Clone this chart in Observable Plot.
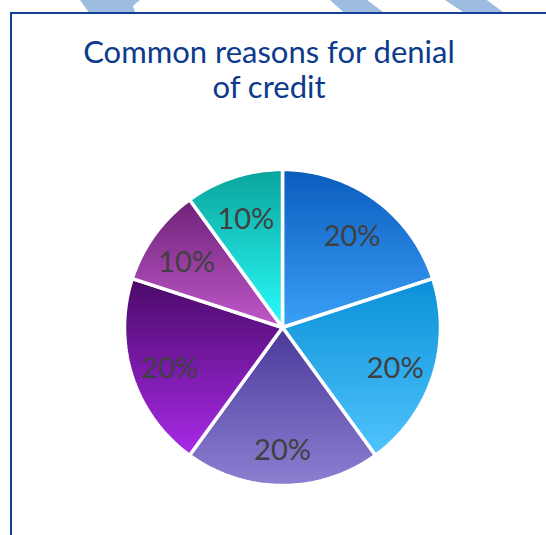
<!DOCTYPE html>
<html>
<head>
<meta charset="utf-8">
<script src="https://cdn.jsdelivr.net/npm/d3@7"></script>
<script src="https://cdn.jsdelivr.net/npm/@observablehq/plot@0.6"></script>
<style>
  html, body { margin: 0; padding: 0; background: #fff; }
  #wrap { position: relative; width: 546px; height: 535px; overflow: hidden; background: #fff; }
  .stripe { position: absolute; top: 0; height: 12px; background: #9dbde0; }
  #frame { position: absolute; left: 10px; top: 12px; width: 600px; height: 600px;
           border-left: 2px solid #123f92; border-top: 2px solid #123f92; }
  #title { position: absolute; left: 0; width: 538px; top: 34px; text-align: center;
           font-family: Lato, "Open Sans", sans-serif; font-size: 31px; line-height: 35px;
           color: #0c3a8c; }
  #chart { position: absolute; left: 0; top: 0; }
</style>
</head>
<body>
<div id="wrap">
  <div class="stripe" style="left:80px;width:60px;clip-path:polygon(0 0,100% 0,88% 50%,92% 100%,14% 100%);"></div>
  <div class="stripe" style="left:330px;width:53px;clip-path:polygon(0 0,70% 0,100% 100%,25% 100%);"></div>
  <div class="stripe" style="left:445px;width:58px;clip-path:polygon(0 0,72% 0,100% 100%,31% 100%);"></div>
  <div id="frame"></div>
  <div id="title">Common reasons for denial<br>of credit</div>
  <div id="chart"></div>
</div>
<script>
// Data
const reasons = ["Reason 1", "Reason 2", "Reason 3", "Reason 4", "Reason 5", "Reason 6"];
const shares = [20, 20, 20, 20, 10, 10];
const labels = ["20%", "20%", "20%", "20%", "10%", "10%"];

// Palette (gradient top / bottom per slice)
const topColors = ["#0b5cbc", "#0a90d8", "#4a3898", "#4a0a68", "#6e2278", "#0aa49c"];
const bottomColors = ["#3aa0f8", "#50c4fc", "#8c80d2", "#a82ae8", "#c058ca", "#2afcfa"];

const arcs = d3.pie().sort(null).startAngle(0).endAngle(2 * Math.PI)(shares);

function slicePolygon(a, i) {
  const pts = [{x: 0, y: 0, i}];
  const n = Math.max(2, Math.ceil((a.endAngle - a.startAngle) / 0.01));
  for (let k = 0; k <= n; k++) {
    const t = a.startAngle + (a.endAngle - a.startAngle) * k / n;
    pts.push({x: Math.sin(t), y: Math.cos(t), i});
  }
  pts.push({x: 0, y: 0, i});
  return pts;
}

const labelData = arcs.map((a, i) => {
  const m = (a.startAngle + a.endAngle) / 2;
  return {x: 0.75 * Math.sin(m), y: 0.75 * Math.cos(m) - 0.03, label: labels[i], reason: reasons[i]};
});

const chart = Plot.plot({
  width: 546,
  height: 535,
  margin: 0,
  style: {background: "transparent", overflow: "visible"},
  x: {domain: [-1, 1], range: [124, 440], axis: null},
  y: {domain: [-1, 1], range: [485, 169], axis: null},
  marks: [
    ...arcs.map((a, i) => Plot.line(slicePolygon(a, i), {
      x: "x", y: "y",
      fill: `url(#slice-grad-${i})`,
      stroke: "white",
      strokeWidth: 3.5,
      strokeLinejoin: "miter"
    })),
    Plot.text(labelData, {
      x: "x", y: "y", text: "label",
      fill: "#404040",
      fontSize: 29,
      fontFamily: "Lato, 'Open Sans', sans-serif",
      textAnchor: "middle",
      lineAnchor: "middle"
    })
  ]
});

const svg = d3.select(chart);
const defs = svg.insert("defs", ":first-child");
shares.forEach((_, i) => {
  const g = defs.append("linearGradient")
    .attr("id", `slice-grad-${i}`)
    .attr("x1", 0).attr("y1", 0).attr("x2", 0).attr("y2", 1);
  g.append("stop").attr("offset", "0%").attr("stop-color", topColors[i]);
  g.append("stop").attr("offset", "100%").attr("stop-color", bottomColors[i]);
});

document.getElementById("chart").appendChild(chart);
</script>
</body>
</html>
